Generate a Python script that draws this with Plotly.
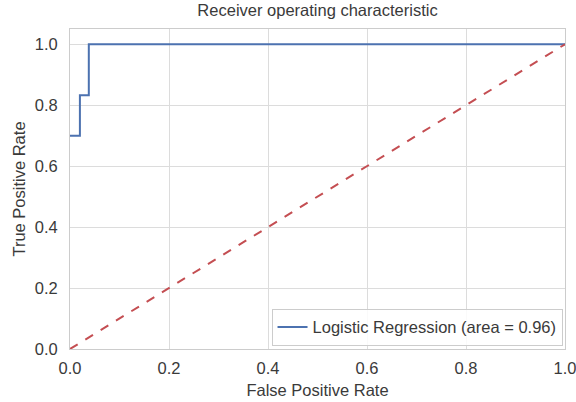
import plotly.graph_objects as go

fpr = [0.0, 0.02, 0.02, 0.038, 0.038, 1.0]
tpr = [0.70, 0.70, 0.833, 0.833, 1.0, 1.0]
diag_x = [0, 1]
diag_y = [0, 1]
auc = 0.96
tick_vals = [0.0, 0.2, 0.4, 0.6, 0.8, 1.0]

font_family = "Liberation Sans, Arial, sans-serif"
text_color = "#3a3a3a"
fs = 16.5

fig = go.Figure()
fig.add_trace(go.Scatter(
    x=fpr, y=tpr, mode="lines",
    line=dict(color="#4C72B0", width=2, shape="linear"),
    name=f"Logistic Regression (area = {auc:.2f})",
))
fig.add_trace(go.Scatter(
    x=diag_x, y=diag_y, mode="lines",
    line=dict(color="#C44E52", width=2, dash="dash"),
    showlegend=False,
))

axis_common = dict(
    showgrid=True, gridcolor="#dcdcdc", gridwidth=1,
    zeroline=False, showline=True, linecolor="#cccccc", linewidth=1,
    mirror=True, ticks="", tickvals=tick_vals, tickformat=".1f",
    automargin=False, layer="above traces", ticklabeloverflow="allow",
    tickfont=dict(size=fs, color=text_color, family=font_family),
)

fig.update_layout(
    width=576, height=402,
    margin=dict(l=70, r=11, t=29, b=53),
    paper_bgcolor="white", plot_bgcolor="white",
    font=dict(family=font_family, color=text_color, size=fs),
    title=dict(text="Receiver operating characteristic", x=0.5, xref="paper",
               xanchor="center", y=0.99, yref="container", yanchor="top",
               automargin=False, font=dict(size=fs, color=text_color)),
    xaxis=dict(range=[0, 1], ticklabelstandoff=4,
               title=dict(text="False Positive Rate", standoff=8,
                          font=dict(size=fs, color=text_color)), **axis_common),
    yaxis=dict(range=[0, 1.05], ticklabelstandoff=8,
               title=dict(text="True Positive Rate", standoff=4,
                          font=dict(size=fs, color=text_color)), **axis_common),
    legend=dict(x=0.995, y=0.01, xanchor="right", yanchor="bottom",
                bgcolor="rgba(255,255,255,0.85)", bordercolor="#cccccc",
                borderwidth=1, font=dict(size=fs, color=text_color)),
)

fig.write_html("out.html", config={"displayModeBar": False},
               post_script="document.body.style.margin='0';")
